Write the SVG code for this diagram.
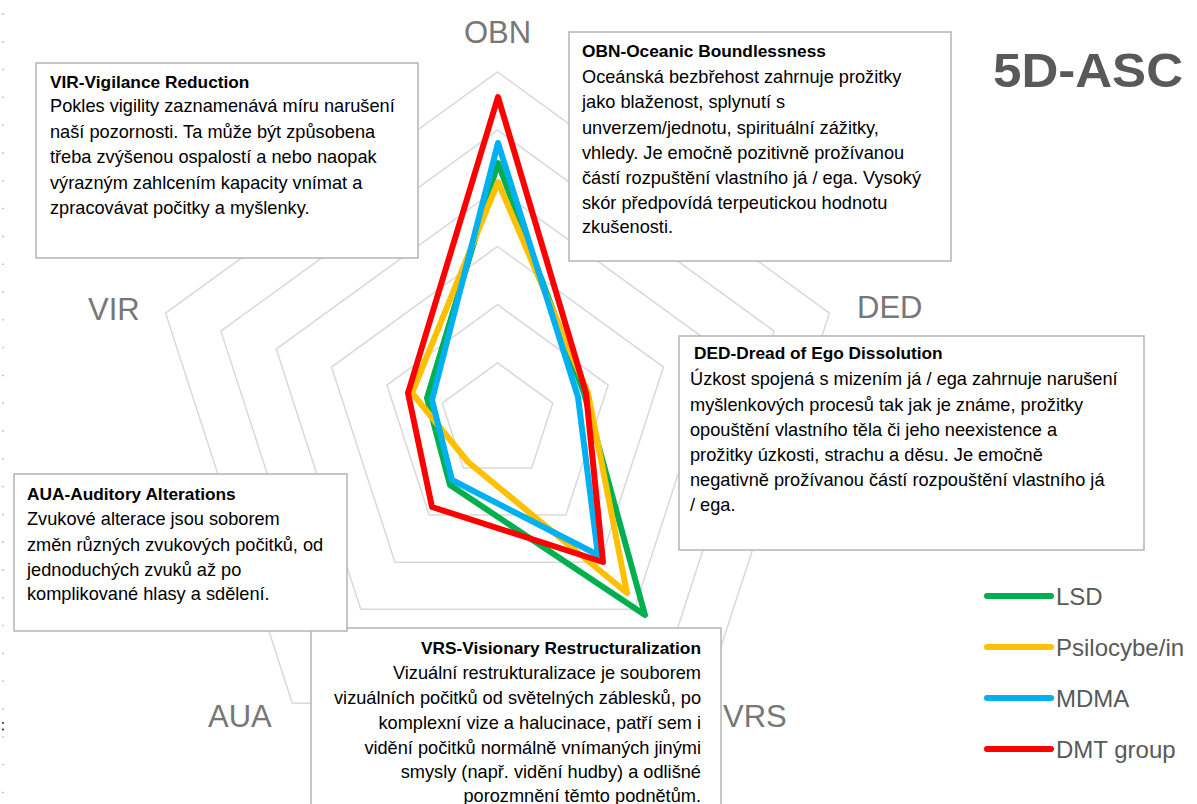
<svg xmlns="http://www.w3.org/2000/svg" width="1197" height="804" viewBox="0 0 1197 804">
<defs>
<style>
.ring{fill:none;stroke:#d9d9d9;stroke-width:1.5}
.ser{fill:none;stroke-linejoin:round;stroke-width:6}
.box{fill:#fff;stroke:#b4b4b4;stroke-width:1.5}
.t{font-family:"Liberation Sans",Arial,sans-serif;font-size:18.2px;fill:#000}
.b{font-family:"Liberation Sans",Arial,sans-serif;font-size:17.3px;font-weight:bold;fill:#000}
.ax{font-family:"Liberation Sans",Arial,sans-serif;font-size:31px;fill:#777}
.lg{font-family:"Liberation Sans",Arial,sans-serif;font-size:24px;fill:#595959}
.lgl{stroke-width:6;stroke-linecap:round}
.dot{fill:#bbb}
</style>
</defs>
<rect width="1197" height="804" fill="#fff"/>
<g id="edge-dots">
<circle class="dot" cx="3" cy="14" r="0.9"/><circle class="dot" cx="3" cy="41.8" r="0.9"/><circle class="dot" cx="3" cy="69.6" r="0.9"/><circle class="dot" cx="3" cy="97.4" r="0.9"/><circle class="dot" cx="3" cy="125.2" r="0.9"/><circle class="dot" cx="3" cy="153" r="0.9"/><circle class="dot" cx="3" cy="180.8" r="0.9"/><circle class="dot" cx="3" cy="208.6" r="0.9"/><circle class="dot" cx="3" cy="236.4" r="0.9"/><circle class="dot" cx="3" cy="264.2" r="0.9"/><circle class="dot" cx="3" cy="292" r="0.9"/><circle class="dot" cx="3" cy="319.8" r="0.9"/><circle class="dot" cx="3" cy="347.6" r="0.9"/><circle class="dot" cx="3" cy="375.4" r="0.9"/><circle class="dot" cx="3" cy="403.2" r="0.9"/><circle class="dot" cx="3" cy="431" r="0.9"/><circle class="dot" cx="3" cy="458.8" r="0.9"/><circle class="dot" cx="3" cy="486.6" r="0.9"/><circle class="dot" cx="3" cy="514.4" r="0.9"/><circle class="dot" cx="3" cy="542.2" r="0.9"/><circle class="dot" cx="3" cy="570" r="0.9"/><circle class="dot" cx="3" cy="597.8" r="0.9"/><circle class="dot" cx="3" cy="625.6" r="0.9"/><circle class="dot" cx="3" cy="653.4" r="0.9"/><circle class="dot" cx="3" cy="681.2" r="0.9"/><circle class="dot" cx="3" cy="709" r="0.9"/><circle class="dot" cx="3" cy="736.8" r="0.9"/><circle class="dot" cx="3" cy="764.6" r="0.9"/><circle class="dot" cx="3" cy="792.4" r="0.9"/>
<circle cx="3" cy="723" r="1" fill="#222"/><circle cx="3" cy="729.5" r="1" fill="#222"/>
</g>
<g id="grid">
<polygon class="ring" points="497.5,362.83 552.83,403.03 531.69,468.06 463.31,468.06 442.17,403.03"/>
<polygon class="ring" points="497.5,304.67 608.14,385.05 565.88,515.11 429.12,515.11 386.86,385.05"/>
<polygon class="ring" points="497.5,246.5 663.47,367.08 600.07,562.17 394.93,562.17 331.53,367.08"/>
<polygon class="ring" points="497.5,188.33 718.79,349.1 634.26,609.23 360.74,609.23 276.21,349.1"/>
<polygon class="ring" points="497.5,130.17 774.11,331.13 668.45,656.28 326.55,656.28 220.89,331.13"/>
<polygon class="ring" points="497.5,72 829.43,313.16 702.64,703.34 292.36,703.34 165.57,313.16"/>
</g>
<g id="series">
<polygon id="s-lsd" class="ser" stroke="#00b050" points="498,163 584,393 645,615 450,485 427,398"/>
<polygon id="s-psilo" class="ser" stroke="#ffc000" points="498,182 588,393 627,593 468,462 412,393"/>
<polygon id="s-mdma" class="ser" stroke="#00b0f0" points="498,143 578,397 598,555 452,480 432,400"/>
<polygon id="s-dmt" class="ser" stroke="#ff0000" stroke-width="7" points="498,97 586,393 603,562 432,507 408,393"/>
</g>
<g id="axis-labels">
<text class="ax" x="497.5" y="43" text-anchor="middle">OBN</text>
<text class="ax" x="88" y="320">VIR</text>
<text class="ax" x="857" y="318">DED</text>
<text class="ax" x="208" y="727">AUA</text>
<text class="ax" x="723" y="727">VRS</text>
</g>
<g id="box-vir">
<rect class="box" x="36" y="63" width="382" height="195"/>
<text class="b" x="50" y="88">VIR-Vigilance Reduction</text>
<text class="t" x="50" y="112">Pokles vigility zaznamenává míru narušení</text>
<text class="t" x="50" y="138">naší pozornosti. Ta může být způsobena</text>
<text class="t" x="50" y="163">třeba zvýšenou ospalostí a nebo naopak</text>
<text class="t" x="50" y="189">výrazným zahlcením kapacity vnímat a</text>
<text class="t" x="50" y="214">zpracovávat počitky a myšlenky.</text>
</g>
<g id="box-obn">
<rect class="box" x="569" y="32" width="382" height="229"/>
<text class="b" x="582" y="57">OBN-Oceanic Boundlessness</text>
<text class="t" x="582" y="83">Oceánská bezbřehost zahrnuje prožitky</text>
<text class="t" x="582" y="108">jako blaženost, splynutí s</text>
<text class="t" x="582" y="134">unverzem/jednotu, spirituální zážitky,</text>
<text class="t" x="582" y="159">vhledy. Je emočně pozitivně prožívanou</text>
<text class="t" x="582" y="184">částí rozpuštění vlastního já / ega. Vysoký</text>
<text class="t" x="582" y="209">skór předpovídá terpeutickou hodnotu</text>
<text class="t" x="582" y="233">zkušenosti.</text>
</g>
<g id="box-ded">
<rect class="box" x="679" y="336" width="465" height="214"/>
<text class="b" x="694" y="359">DED-Dread of Ego Dissolution</text>
<text class="t" x="690" y="385">Úzkost spojená s mizením já / ega zahrnuje narušení</text>
<text class="t" x="690" y="411">myšlenkových procesů tak jak je známe, prožitky</text>
<text class="t" x="690" y="436">opouštění vlastního těla či jeho neexistence a</text>
<text class="t" x="690" y="461">prožitky úzkosti, strachu a děsu. Je emočně</text>
<text class="t" x="690" y="486">negativně prožívanou částí rozpouštění vlastního já</text>
<text class="t" x="690" y="511">/ ega.</text>
</g>
<g id="box-vrs">
<rect class="box" x="311" y="628" width="410" height="190"/>
<text class="b" x="701" y="654" text-anchor="end">VRS-Visionary Restructuralization</text>
<text class="t" x="701" y="679" text-anchor="end">Vizuální restrukturalizace je souborem</text>
<text class="t" x="701" y="704" text-anchor="end">vizuálních počitků od světelných záblesků, po</text>
<text class="t" x="701" y="729" text-anchor="end">komplexní vize a halucinace, patří sem i</text>
<text class="t" x="701" y="754" text-anchor="end">vidění počitků normálně vnímaných jinými</text>
<text class="t" x="701" y="778" text-anchor="end">smysly (např. vidění hudby) a odlišné</text>
<text class="t" x="701" y="802" text-anchor="end">porozmnění těmto podnětům.</text>
</g>
<g id="box-aua">
<rect class="box" x="14" y="474" width="333" height="157"/>
<text class="b" x="27" y="500">AUA-Auditory Alterations</text>
<text class="t" x="27" y="525">Zvukové alterace jsou soborem</text>
<text class="t" x="27" y="551">změn různých zvukových počitků, od</text>
<text class="t" x="27" y="576">jednoduchých zvuků až po</text>
<text class="t" x="27" y="600">komplikované hlasy a sdělení.</text>
</g>
<g id="title">
<text x="993" y="87" font-family="'Liberation Sans',Arial,sans-serif" font-size="49" font-weight="bold" fill="#595959" textLength="190" lengthAdjust="spacingAndGlyphs">5D-ASC</text>
</g>
<g id="legend">
<line class="lgl" x1="987" y1="596" x2="1051" y2="596" stroke="#00b050"/>
<text class="lg" x="1056" y="605">LSD</text>
<line class="lgl" x1="987" y1="647" x2="1051" y2="647" stroke="#ffc000"/>
<text class="lg" x="1056" y="656">Psilocybe/in</text>
<line class="lgl" x1="987" y1="698" x2="1051" y2="698" stroke="#00b0f0"/>
<text class="lg" x="1056" y="707">MDMA</text>
<line class="lgl" x1="987" y1="749" x2="1051" y2="749" stroke="#ff0000"/>
<text class="lg" x="1056" y="758">DMT group</text>
</g>
</svg>
